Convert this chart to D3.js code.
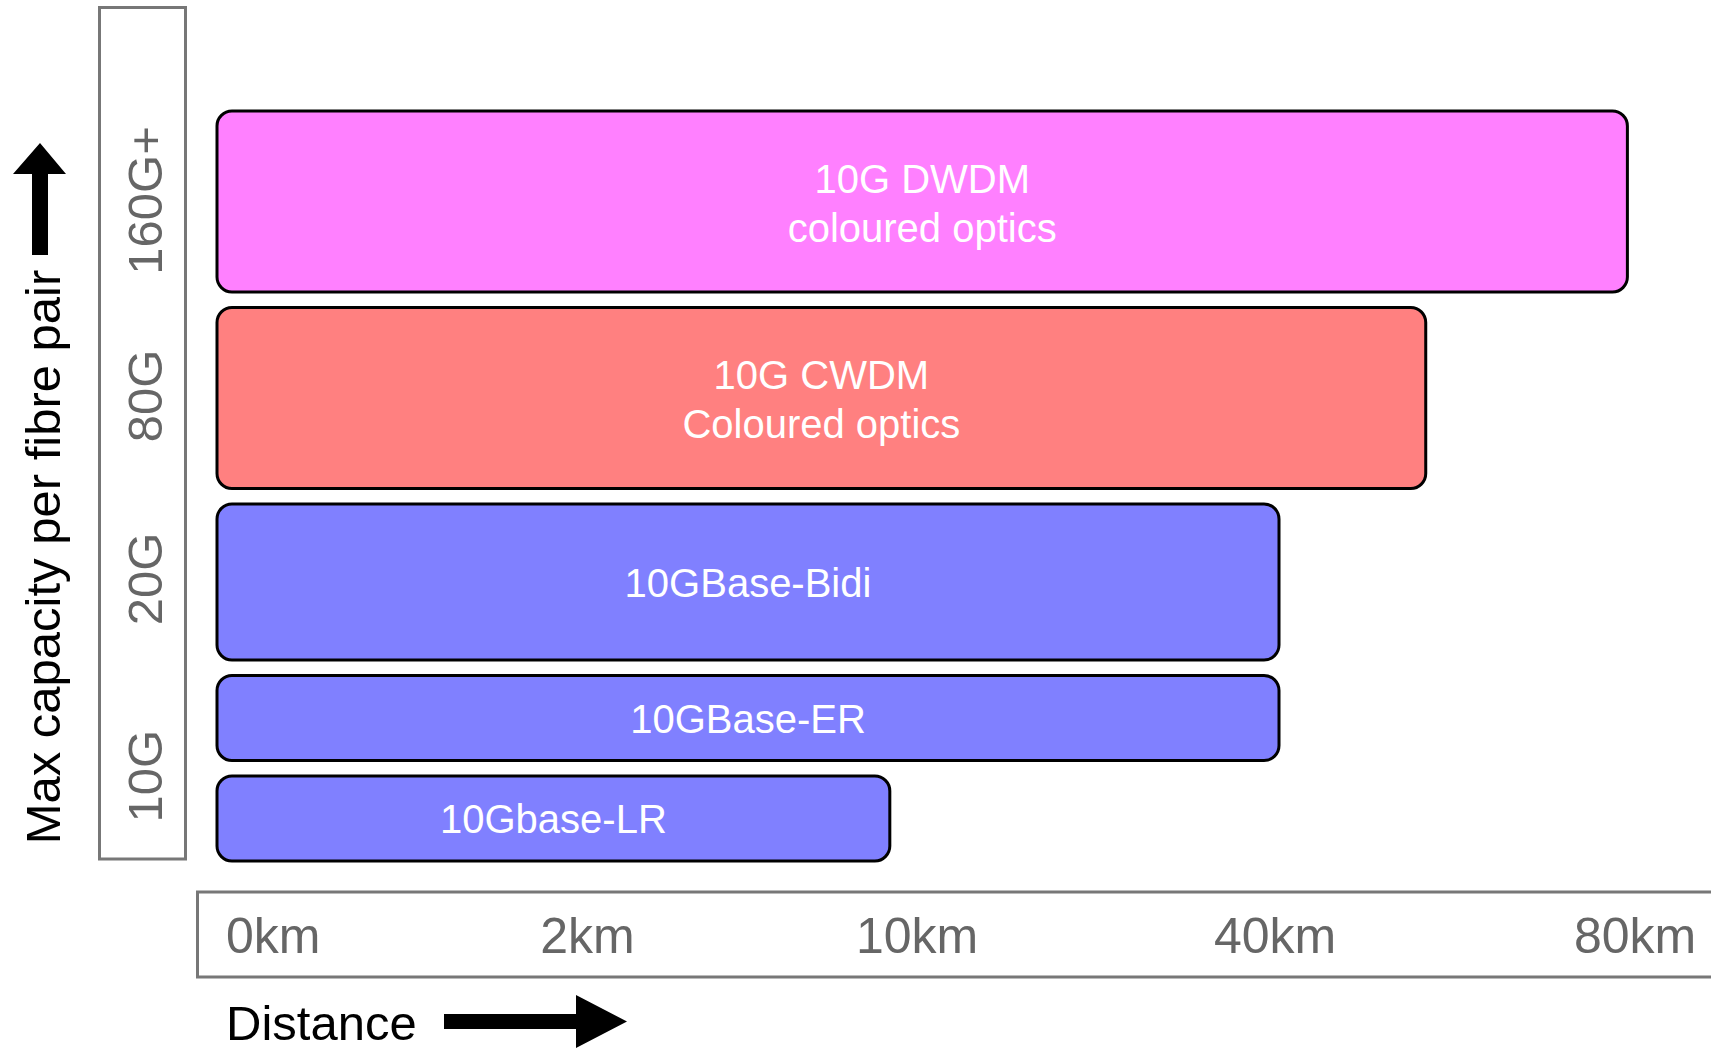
<!DOCTYPE html>
<html>
<head>
<meta charset="utf-8">
<script src="https://cdn.jsdelivr.net/npm/d3@7"></script>
<style>
  html, body { margin: 0; padding: 0; background: #fff; }
  svg { display: block; font-family: "Liberation Sans", Arial, sans-serif; }
</style>
</head>
<body>
<svg id="chart" width="1711" height="1049"></svg>
<script>
// 10G optics: reach vs. capacity per fibre pair
const technologies = ["10G DWDM", "10G CWDM", "10GBase-Bidi", "10GBase-ER", "10Gbase-LR"];
const labelLines = [
  ["10G DWDM", "coloured optics"],
  ["10G CWDM", "Coloured optics"],
  ["10GBase-Bidi"],
  ["10GBase-ER"],
  ["10Gbase-LR"]
];
const reachKm = [79.2, 56.8, 40.5, 40.5, 9.35];
const capacityTier = ["160G+", "80G", "20G", "10G", "10G"];
const capacityTicks = ["160G+", "80G", "20G", "10G"];
const distanceTicks = [0, 2, 10, 40, 80];

const rows = technologies.map((name, i) => ({
  name, lines: labelLines[i], reach: reachKm[i], tier: capacityTier[i]
}));

const svg = d3.select("#chart");

// Layout
const plotLeft = 217;
const rowTop = 111;
const rowGap = 15.5;
const tierHeight = { "160G+": 181, "80G": 181, "20G": 156, "10G": 85 };
const tierLabelShift = { "160G+": -1, "80G": -2, "20G": -3, "10G": 8 };
const tierColor = d3.scaleOrdinal()
  .domain(["160G+", "80G", "20G", "10G"])
  .range(["#ff80ff", "#ff8080", "#8080ff", "#8080ff"]);

// Distance axis is non-linear: one segment per tick interval
const x = d3.scaleLinear()
  .domain(distanceTicks)
  .range([272.8, 587, 916.6, 1274.5, 1634.6]);

// Stack rows top to bottom
let cursor = rowTop;
rows.forEach(r => {
  r.y0 = cursor;
  r.y1 = cursor + tierHeight[r.tier];
  cursor = r.y1 + rowGap;
});

// Capacity axis frame
svg.append("rect")
  .attr("x", 99.5).attr("y", 7.5)
  .attr("width", 86).attr("height", 851.5)
  .attr("fill", "none").attr("stroke", "#777").attr("stroke-width", 3);

// Capacity tick labels, centred on the rows of each tier
capacityTicks.forEach(t => {
  const tierRows = rows.filter(r => r.tier === t);
  const cy = (d3.min(tierRows, r => r.y0) + d3.max(tierRows, r => r.y1)) / 2 + tierLabelShift[t];
  svg.append("text")
    .attr("transform", `translate(162,${cy}) rotate(-90)`)
    .attr("text-anchor", "middle")
    .attr("font-size", 49)
    .attr("fill", "#666")
    .text(t);
});

// Capacity title and arrow
svg.append("text")
  .attr("transform", "translate(60,557) rotate(-90)")
  .attr("text-anchor", "middle")
  .attr("font-size", 49)
  .attr("fill", "#000")
  .text("Max capacity per fibre pair");

svg.append("path")
  .attr("d", "M40,143 L66,174 L48,174 L48,255 L32,255 L32,174 L13,174 Z")
  .attr("fill", "#000");

// Bars
const bars = svg.append("g").selectAll("g.bar")
  .data(rows)
  .join("g")
  .attr("class", "bar");

bars.append("rect")
  .attr("x", plotLeft)
  .attr("y", d => d.y0)
  .attr("width", d => x(d.reach) - plotLeft)
  .attr("height", d => d.y1 - d.y0)
  .attr("rx", 15).attr("ry", 15)
  .attr("fill", d => tierColor(d.tier))
  .attr("stroke", "#000")
  .attr("stroke-width", 3);

const lineHeight = 49;
const capHeight = 29;
bars.each(function(d) {
  const cx = (plotLeft + x(d.reach)) / 2;
  const cy = (d.y0 + d.y1) / 2;
  const block = capHeight + lineHeight * (d.lines.length - 1);
  const firstBase = cy - block / 2 + capHeight + (d.lines.length > 1 ? 1 : 0);
  d3.select(this).selectAll("text")
    .data(d.lines)
    .join("text")
    .attr("x", cx)
    .attr("y", (l, i) => firstBase + i * lineHeight)
    .attr("text-anchor", "middle")
    .attr("font-size", 40)
    .attr("fill", "#fff")
    .text(l => l);
});

// Distance axis frame (open to the right)
svg.append("path")
  .attr("d", "M1720,892 L197.5,892 L197.5,977 L1720,977")
  .attr("fill", "none").attr("stroke", "#777").attr("stroke-width", 3);

const xAxis = d3.axisBottom(x)
  .tickValues(distanceTicks)
  .tickFormat(d => `${d}km`)
  .tickSize(0)
  .tickPadding(0);

const axisG = svg.append("g")
  .attr("transform", "translate(0,917.5)")
  .call(xAxis);
axisG.select(".domain").remove();
axisG.selectAll("text")
  .attr("font-size", 50)
  .attr("font-family", "\"Liberation Sans\", Arial, sans-serif")
  .attr("fill", "#666");

// Distance title and arrow
svg.append("text")
  .attr("x", 226).attr("y", 1040)
  .attr("font-size", 49)
  .attr("fill", "#000")
  .text("Distance");

svg.append("path")
  .attr("d", "M444,1014 L576,1014 L576,995 L627,1021.5 L576,1048 L576,1029 L444,1029 Z")
  .attr("fill", "#000");
</script>
</body>
</html>
